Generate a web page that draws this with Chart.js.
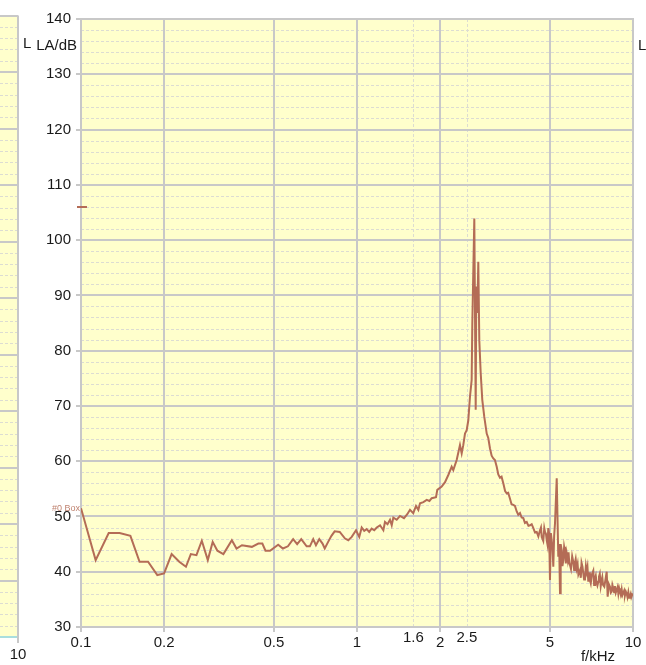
<!DOCTYPE html>
<html>
<head>
<meta charset="utf-8">
<script src="https://cdn.jsdelivr.net/npm/chart.js@4.4.1/dist/chart.umd.min.js"></script>
<style>
  html, body { margin: 0; padding: 0; background: #ffffff; }
  #spectrumChart { display: block; }
</style>
</head>
<body>
<canvas id="spectrumChart" width="646" height="665"></canvas>
<script>
// spectrum: frequency in kHz, A-weighted level in dB
const frequencies = [
  0.100, 0.113, 0.126, 0.138, 0.151, 0.163, 0.175, 0.189, 0.200, 0.213,
  0.227, 0.240, 0.250, 0.262, 0.274, 0.288, 0.300, 0.312, 0.328, 0.352,
  0.366, 0.383, 0.416, 0.439, 0.454, 0.466, 0.484, 0.518, 0.539, 0.562,
  0.587, 0.607, 0.628, 0.657, 0.675, 0.694, 0.710, 0.730, 0.750, 0.764,
  0.786, 0.808, 0.830, 0.866, 0.905, 0.930, 0.957, 0.992, 1.019, 1.040,
  1.062, 1.084, 1.107, 1.130, 1.155, 1.179, 1.212, 1.246, 1.263, 1.290,
  1.317, 1.336, 1.354, 1.393, 1.432, 1.480, 1.521, 1.556, 1.599, 1.636,
  1.668, 1.692, 1.740, 1.789, 1.830, 1.865, 1.933, 1.954, 2.027, 2.084,
  2.142, 2.203, 2.233, 2.297, 2.361, 2.395, 2.427, 2.462, 2.497, 2.531,
  2.567, 2.603, 2.617, 2.661, 2.692, 2.705, 2.729, 2.751, 2.774, 2.807,
  2.844, 2.892, 2.951, 2.990, 3.033, 3.075, 3.118, 3.160, 3.208, 3.250,
  3.297, 3.340, 3.389, 3.440, 3.486, 3.530, 3.584, 3.630, 3.684, 3.735,
  3.790, 3.840, 3.896, 3.950, 4.005, 4.060, 4.120, 4.180, 4.236, 4.295,
  4.354, 4.415, 4.479, 4.540, 4.603, 4.640, 4.670, 4.730, 4.770, 4.800,
  4.840, 4.868, 4.900, 4.933, 4.970, 5.003, 5.040, 5.074, 5.110, 5.143,
  5.180, 5.217, 5.292, 5.362, 5.400, 5.439, 5.470, 5.517, 5.550, 5.591,
  5.630, 5.670, 5.710, 5.752, 5.800, 5.840, 5.878, 5.912, 5.960, 6.020,
  6.078, 6.120, 6.160, 6.200, 6.252, 6.300, 6.340, 6.427, 6.470, 6.510,
  6.560, 6.606, 6.650, 6.700, 6.750, 6.796, 6.840, 6.887, 6.930, 6.980,
  7.030, 7.086, 7.130, 7.180, 7.230, 7.283, 7.330, 7.380, 7.430, 7.487,
  7.530, 7.580, 7.640, 7.702, 7.740, 7.790, 7.870, 7.950, 8.029, 8.096,
  8.170, 8.254, 8.310, 8.370, 8.420, 8.483, 8.540, 8.600, 8.660, 8.727,
  8.790, 8.850, 8.910, 8.971, 9.040, 9.100, 9.160, 9.223, 9.290, 9.350,
  9.420, 9.489, 9.550, 9.620, 9.690, 9.752, 9.810, 9.860, 9.975
];
const levels = [
  51.5, 42.1, 47.0, 47.0, 46.5, 41.8, 41.8, 39.4, 39.7, 43.2,
  41.8, 40.9, 43.2, 43.0, 45.6, 42.1, 45.4, 43.8, 43.2, 45.7,
  44.2, 44.8, 44.5, 45.1, 45.1, 43.8, 43.8, 44.9, 44.2, 44.6,
  45.9, 45.0, 45.9, 44.6, 44.6, 45.9, 44.8, 45.9, 45.1, 44.2,
  45.4, 46.5, 47.3, 47.2, 46.0, 45.7, 46.3, 47.5, 46.3, 48.0,
  47.4, 47.7, 47.2, 47.8, 47.5, 48.0, 48.4, 47.5, 49.0, 48.6,
  49.4, 48.4, 49.8, 49.4, 50.1, 49.7, 50.4, 51.2, 50.6, 51.9,
  51.2, 52.4, 52.6, 53.0, 52.8, 53.3, 53.5, 54.8, 55.4, 56.2,
  57.5, 59.0, 58.4, 60.2, 62.9, 61.4, 62.9, 65.0, 65.6, 67.4,
  71.7, 74.7, 84.9, 103.9, 69.3, 91.6, 86.8, 96.1, 81.9, 75.9,
  71.1, 68.0, 65.0, 64.2, 62.3, 61.0, 60.5, 60.2, 59.0, 57.6,
  57.0, 57.2, 56.0, 54.6, 54.2, 54.3, 53.2, 52.2, 52.1, 51.9,
  50.9, 50.3, 50.6, 49.8, 49.7, 48.8, 49.0, 48.3, 48.4, 48.6,
  47.9, 47.1, 47.2, 46.4, 47.5, 48.0, 46.3, 45.6, 47.9, 47.2,
  46.8, 45.7, 44.9, 47.9, 46.8, 38.5, 47.0, 45.7, 44.3, 40.9,
  46.5, 48.8, 56.9, 42.7, 45.0, 36.1, 45.0, 43.9, 41.0, 42.1,
  44.5, 43.6, 41.5, 43.3, 42.1, 43.5, 41.5, 41.2, 40.5, 42.8,
  41.8, 40.3, 41.6, 42.3, 40.6, 41.4, 39.5, 40.3, 38.9, 41.6,
  40.9, 39.7, 38.6, 38.9, 41.0, 40.0, 40.8, 38.2, 39.9, 38.5,
  37.9, 39.4, 39.8, 40.2, 37.6, 38.8, 39.3, 38.0, 37.5, 38.2,
  39.1, 39.6, 37.4, 38.5, 39.0, 37.6, 37.3, 38.6, 40.0, 35.5,
  37.8, 37.3, 36.2, 36.4, 37.6, 37.0, 36.3, 37.4, 36.2, 36.7,
  37.2, 36.0, 37.0, 36.4, 35.9, 36.8, 35.8, 36.2, 36.6, 35.7,
  36.4, 36.0, 35.4, 36.3, 35.3, 35.6, 36.0, 35.4, 36.1
];

const xTicks = [0.1, 0.2, 0.5, 1, 2, 5, 10];
const xMinorTicks = [1.6, 2.5];
const yTicks = [30, 40, 50, 60, 70, 80, 90, 100, 110, 120, 130, 140];
const yMinorStep = 2;
const markerLevel = 106;
const seriesLabel = '#0 Box';
const xTitle = 'f/kHz';
const yTitle = 'LA/dB';

const lineColor = '#b46c56';
const plotFill = '#ffffcc';
const majorGrid = '#c8c8c8';
const minorGrid = '#dcdcd2';
const textColor = '#1a1a1a';
const font = '15px "Liberation Sans", Arial, sans-serif';

function stroke(ctx, x1, y1, x2, y2) {
  ctx.beginPath();
  ctx.moveTo(x1, y1);
  ctx.lineTo(x2, y2);
  ctx.stroke();
}

const plotFrame = {
  id: 'plotFrame',
  beforeDraw(chart) {
    const { ctx, width, height, chartArea: a, scales: { x, y } } = chart;
    ctx.save();
    ctx.fillStyle = '#ffffff';
    ctx.fillRect(0, 0, width, height);

    // edge of the neighbouring panel on the left
    const pTop = 15.5, pBottom = 637, pRight = 18, pStep = (pBottom - pTop) / 11;
    ctx.fillStyle = plotFill;
    ctx.fillRect(0, pTop, pRight, pBottom - pTop);
    ctx.lineWidth = 1;
    ctx.strokeStyle = minorGrid;
    ctx.setLineDash([3, 2]);
    for (let i = 0; i < 55; i++) {
      if (i % 5 === 0) continue;
      const py = Math.round(pTop + i * pStep / 5) + 0.5;
      stroke(ctx, 0, py, pRight, py);
    }
    ctx.setLineDash([]);
    ctx.strokeStyle = majorGrid;
    ctx.lineWidth = 2;
    for (let i = 0; i <= 11; i++) {
      const py = Math.round(pTop + i * pStep);
      stroke(ctx, 0, py, pRight, py);
    }
    stroke(ctx, pRight, pTop, pRight, pBottom + 6);
    ctx.strokeStyle = '#a9dede';
    stroke(ctx, 0, pBottom, pRight - 1, pBottom);

    // plot area
    ctx.fillStyle = plotFill;
    ctx.fillRect(a.left, a.top, a.right - a.left, a.bottom - a.top);

    ctx.lineWidth = 1;
    ctx.strokeStyle = minorGrid;
    ctx.setLineDash([3, 2]);
    for (let v = y.min + yMinorStep; v < y.max; v += yMinorStep) {
      if (v % 10 === 0) continue;
      const py = Math.round(y.getPixelForValue(v)) + 0.5;
      stroke(ctx, a.left, py, a.right, py);
    }
    xMinorTicks.forEach(f => {
      const px = Math.round(x.getPixelForValue(f)) + 0.5;
      stroke(ctx, px, a.top, px, a.bottom);
    });

    ctx.setLineDash([]);
    ctx.strokeStyle = majorGrid;
    ctx.lineWidth = 2;
    yTicks.forEach(v => {
      const py = Math.round(y.getPixelForValue(v));
      stroke(ctx, a.left - 5, py, a.right, py);
    });
    xTicks.forEach(f => {
      const px = Math.round(x.getPixelForValue(f));
      stroke(ctx, px, a.top, px, a.bottom + 5);
    });
    ctx.strokeRect(a.left, a.top, a.right - a.left, a.bottom - a.top);
    ctx.restore();
  },
  afterDraw(chart) {
    const { ctx, chartArea: a, scales: { x, y } } = chart;
    ctx.save();
    ctx.fillStyle = textColor;
    ctx.font = font;

    ctx.textAlign = 'right';
    ctx.textBaseline = 'middle';
    yTicks.forEach(v => ctx.fillText(String(v), a.left - 10, y.getPixelForValue(v)));
    ctx.fillText(yTitle, a.left - 4, 46);

    ctx.textAlign = 'center';
    xTicks.forEach(f => ctx.fillText(String(f), x.getPixelForValue(f), a.bottom + 16));
    xMinorTicks.forEach(f => ctx.fillText(String(f), x.getPixelForValue(f), a.bottom + 11));
    ctx.fillText(xTitle, 598, a.bottom + 30);

    // labels belonging to the neighbouring panels
    ctx.fillText('10', 18, 655);
    ctx.textAlign = 'left';
    ctx.fillText('L', 23, 44);
    ctx.fillText('L', 638, 46);

    // series name at its first point and the level marker
    ctx.fillStyle = lineColor;
    ctx.globalAlpha = 0.85;
    ctx.font = '9px "Liberation Sans", Arial, sans-serif';
    ctx.textAlign = 'right';
    ctx.fillText(seriesLabel, a.left - 1, y.getPixelForValue(levels[0]));
    ctx.globalAlpha = 1;
    ctx.strokeStyle = lineColor;
    ctx.lineWidth = 2;
    const my = Math.round(y.getPixelForValue(markerLevel));
    stroke(ctx, a.left - 4, my, a.left + 6, my);
    ctx.restore();
  }
};

new Chart(document.getElementById('spectrumChart'), {
  type: 'line',
  data: {
    datasets: [{
      label: seriesLabel,
      data: frequencies.map((f, i) => ({ x: f, y: levels[i] })),
      borderColor: lineColor,
      borderWidth: 2,
      pointRadius: 0,
      tension: 0,
      fill: false
    }]
  },
  options: {
    responsive: false,
    animation: false,
    layout: {
      padding: { left: 81, right: 13, top: 19, bottom: 38 }
    },
    plugins: {
      legend: { display: false },
      tooltip: { enabled: false }
    },
    scales: {
      x: {
        type: 'logarithmic',
        min: 0.1,
        max: 10,
        display: false
      },
      y: {
        type: 'linear',
        min: 30,
        max: 140,
        display: false
      }
    }
  },
  plugins: [plotFrame]
});
</script>
</body>
</html>
